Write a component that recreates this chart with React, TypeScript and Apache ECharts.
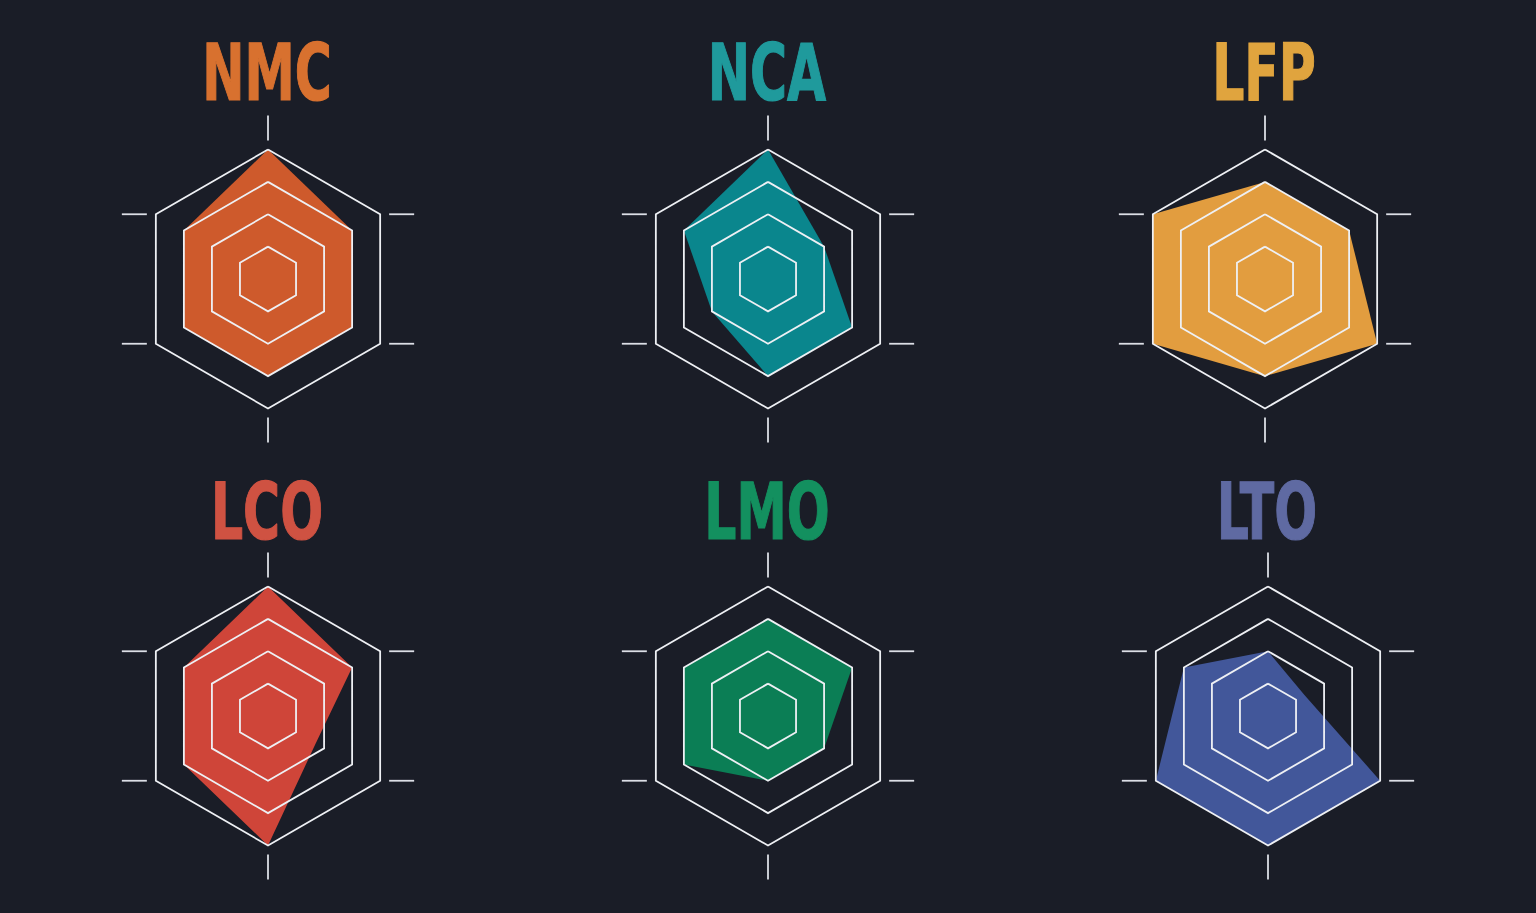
import React, { useEffect, useRef } from "react";
import * as echarts from "echarts";

// Battery chemistries (titles)
const chemistries = ["NMC", "NCA", "LFP", "LCO", "LMO", "LTO"];

// Indicator names (ECharts order: top, then counter-clockwise)
const indicatorNames = [
  "Specific Energy",
  "Cost",
  "Life Span",
  "Performance",
  "Safety",
  "Specific Power",
];
const indicatorMax = 4;

// Values in ECharts order: [top, upper-left, lower-left, bottom, lower-right, upper-right]
const nmcValues = [4, 3, 3, 3, 3, 3];
const ncaValues = [4, 3, 2, 3, 3, 2];
const lfpValues = [3, 4, 4, 3, 4, 3];
const lcoValues = [4, 3, 3, 4, 1.7, 3];
const lmoValues = [3, 3, 3, 2, 2, 3];
const ltoValues = [2, 3, 4, 4, 4, 1.3];

const allValues = [nmcValues, ncaValues, lfpValues, lcoValues, lmoValues, ltoValues];

const titleColors = ["#d8712f", "#1f9a9c", "#e0a43e", "#cf5242", "#13905f", "#5f6aa2"];
const fillColors = ["#ce5a2c", "#0a868d", "#e29d3f", "#cf4539", "#0b7e55", "#42579a"];

export default function App() {
  const ref = useRef<HTMLDivElement>(null);

  useEffect(() => {
    if (!ref.current) return;
    const chart = echarts.init(ref.current, null, { renderer: "svg" });

    const centers: [number, number][] = [
      [268, 279],
      [768, 279],
      [1265, 279],
      [268, 716],
      [768, 716],
      [1268, 716],
    ];
    const R = 129.5;
    const titleY = [73.5, 73.5, 73.5, 512.5, 512.5, 512.5];

    const radar = centers.map((c) => ({
      center: [c[0], c[1]],
      radius: R,
      shape: "polygon",
      startAngle: 90,
      splitNumber: 4,
      z: 5,
      indicator: indicatorNames.map((n) => ({ name: n, max: indicatorMax, min: 0 })),
      axisName: { show: false },
      axisLine: { show: false },
      axisTick: { show: false },
      axisLabel: { show: false },
      splitArea: { show: false },
      splitLine: { lineStyle: { color: "#eef0f4", width: 1.8 } },
    }));

    const series = allValues.map((vals, i) => ({
      type: "radar",
      radarIndex: i,
      z: 2,
      symbol: "none",
      silent: true,
      lineStyle: { width: 0, opacity: 0 },
      areaStyle: { color: fillColors[i], opacity: 1 },
      data: [{ value: vals, name: chemistries[i] }],
    }));

    const tickColor = "#dcdfe6";
    const graphics: any[] = [];
    centers.forEach((c, i) => {
      const [cx, cy] = c;
      const sx = R * Math.cos(Math.PI / 6);
      const gap = 9;
      const len = 25;
      const segs = [
        [cx, cy - R - gap, cx, cy - R - gap - len],
        [cx, cy + R + gap, cx, cy + R + gap + len],
        [cx - sx - gap, cy - R / 2, cx - sx - gap - len, cy - R / 2],
        [cx - sx - gap, cy + R / 2, cx - sx - gap - len, cy + R / 2],
        [cx + sx + gap, cy - R / 2, cx + sx + gap + len, cy - R / 2],
        [cx + sx + gap, cy + R / 2, cx + sx + gap + len, cy + R / 2],
      ];
      segs.forEach((s) => {
        graphics.push({
          type: "line",
          silent: true,
          shape: { x1: s[0], y1: s[1], x2: s[2], y2: s[3] },
          style: { stroke: tickColor, lineWidth: 1.8 },
        });
      });
      graphics.push({
        type: "text",
        x: cx - 1,
        y: titleY[i],
        scaleX: 0.72,
        silent: true,
        style: {
          text: chemistries[i],
          fill: titleColors[i],
          stroke: titleColors[i],
          lineWidth: 1.2,
          font: "bold 78px 'DejaVu Sans Condensed', 'Liberation Sans Narrow', sans-serif",
          textAlign: "center",
          textVerticalAlign: "middle",
        },
      });
    });

    chart.setOption({
      animation: false,
      backgroundColor: "#1a1d27",
      radar,
      series,
      graphic: graphics,
    });

    return () => chart.dispose();
  }, []);

  return (
    <div
      ref={ref}
      style={{
        position: "fixed",
        left: 0,
        top: 0,
        width: 1536,
        height: 913,
        background: "#1a1d27",
      }}
    />
  );
}
